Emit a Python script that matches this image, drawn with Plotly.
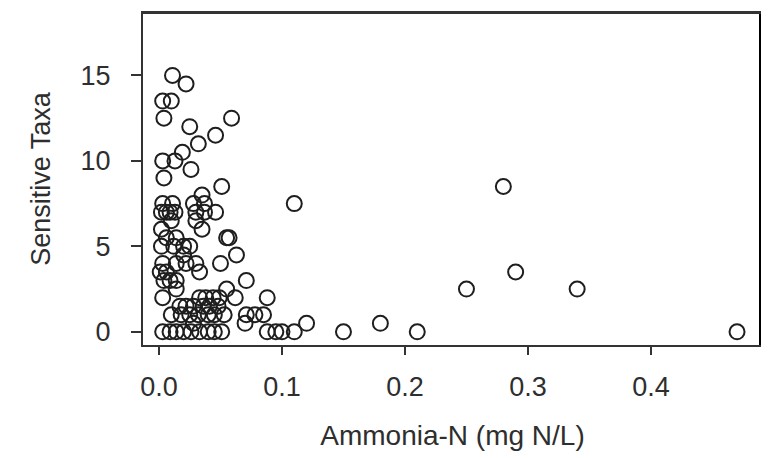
import plotly.graph_objects as go

# Ammonia-N (mg N/L) and Sensitive Taxa
ammonia_n = [
    0.011,
    0.022,
    0.003, 0.010,
    0.004, 0.059,
    0.025,
    0.046,
    0.032,
    0.019,
    0.003, 0.013,
    0.026,
    0.004,
    0.051, 0.28,
    0.035,
    0.003, 0.011, 0.028, 0.037, 0.11,
    0.002, 0.006, 0.009, 0.013, 0.030, 0.037, 0.046,
    0.010, 0.030,
    0.002, 0.035,
    0.006, 0.014, 0.055, 0.057,
    0.002, 0.012, 0.020, 0.025,
    0.020, 0.063,
    0.003, 0.014, 0.022, 0.030, 0.050,
    0.001, 0.006, 0.033, 0.29,
    0.004, 0.009, 0.014, 0.071,
    0.014, 0.055, 0.25, 0.34,
    0.003, 0.033, 0.038, 0.044, 0.049, 0.062, 0.088,
    0.017, 0.022, 0.028, 0.036, 0.041, 0.048,
    0.010, 0.018, 0.025, 0.032, 0.040, 0.045, 0.053, 0.071, 0.078, 0.085,
    0.028, 0.070, 0.12, 0.18,
    0.003, 0.009, 0.014, 0.020, 0.026, 0.033, 0.040, 0.045, 0.051,
    0.088, 0.095, 0.10, 0.11, 0.15, 0.21, 0.47,
]
sensitive_taxa = [
    15,
    14.5,
    13.5, 13.5,
    12.5, 12.5,
    12,
    11.5,
    11,
    10.5,
    10, 10,
    9.5,
    9,
    8.5, 8.5,
    8,
    7.5, 7.5, 7.5, 7.5, 7.5,
    7, 7, 7, 7, 7, 7, 7,
    6.5, 6.5,
    6, 6,
    5.5, 5.5, 5.5, 5.5,
    5, 5, 5, 5,
    4.5, 4.5,
    4, 4, 4, 4, 4,
    3.5, 3.5, 3.5, 3.5,
    3, 3, 3, 3,
    2.5, 2.5, 2.5, 2.5,
    2, 2, 2, 2, 2, 2, 2,
    1.5, 1.5, 1.5, 1.5, 1.5, 1.5,
    1, 1, 1, 1, 1, 1, 1, 1, 1, 1,
    0.5, 0.5, 0.5, 0.5,
    0, 0, 0, 0, 0, 0, 0, 0, 0,
    0, 0, 0, 0, 0, 0, 0,
]

x_ticks = [0.0, 0.1, 0.2, 0.3, 0.4]
x_tick_labels = ["0.0", "0.1", "0.2", "0.3", "0.4"]
y_ticks = [0, 5, 10, 15]
y_tick_labels = ["0", "5", "10", "15"]

x_title = "Ammonia-N (mg N/L)"
y_title = "Sensitive Taxa"

FONT = "Liberation Sans, Arial, Helvetica, sans-serif"
TEXT = "#2e2e2e"
LINE = "#333333"

# page body adds an 8px offset; margins are chosen so the frame lands where the reference has it
M_L, M_R, M_T, M_B = 135, 15, 3, 121
PLOT_W = 769 - M_L - M_R

fig = go.Figure()
fig.add_trace(go.Scatter(
    x=ammonia_n, y=sensitive_taxa, mode="markers",
    marker=dict(symbol="circle-open", size=15, color="#1e1e1e",
                line=dict(width=2, color="#1e1e1e")),
    hoverinfo="x+y", showlegend=False,
))

fig.update_layout(
    width=769, height=458,
    margin=dict(l=M_L, r=M_R, t=M_T, b=M_B),
    paper_bgcolor="white", plot_bgcolor="white",
    font=dict(family=FONT, size=27, color=TEXT),
    xaxis=dict(
        range=[-0.013, 0.4903],
        tickvals=x_ticks, ticktext=x_tick_labels,
        ticks="outside", ticklen=8, tickwidth=1.5, tickcolor=LINE,
        showline=True, linewidth=2, linecolor=LINE, mirror=True,
        showgrid=False, zeroline=False,
        ticklabelstandoff=9,
        title=dict(text=x_title, standoff=24, font=dict(size=28, color=TEXT)),
        tickfont=dict(size=27, color=TEXT),
    ),
    yaxis=dict(
        range=[-0.77, 18.65],
        tickvals=y_ticks, ticktext=y_tick_labels,
        ticks="outside", ticklen=10, tickwidth=1.5, tickcolor=LINE,
        showline=True, linewidth=2, linecolor=LINE, mirror=True,
        showgrid=False, zeroline=False,
        ticklabelstandoff=15,
        title=dict(text=y_title, standoff=22, font=dict(size=27, color=TEXT)),
        tickfont=dict(size=27, color=TEXT),
    ),
    shapes=[
        dict(type="line", xref="paper", yref="paper",
             x0=1, x1=1, y0=0, y1=1,
             line=dict(color="black", width=6), layer="above"),
        dict(type="line", xref="paper", yref="paper",
             x0=0, x1=1 + M_R / PLOT_W, y0=1, y1=1,
             line=dict(color=LINE, width=2), layer="above"),
    ],
)

fig.write_html("out.html")
